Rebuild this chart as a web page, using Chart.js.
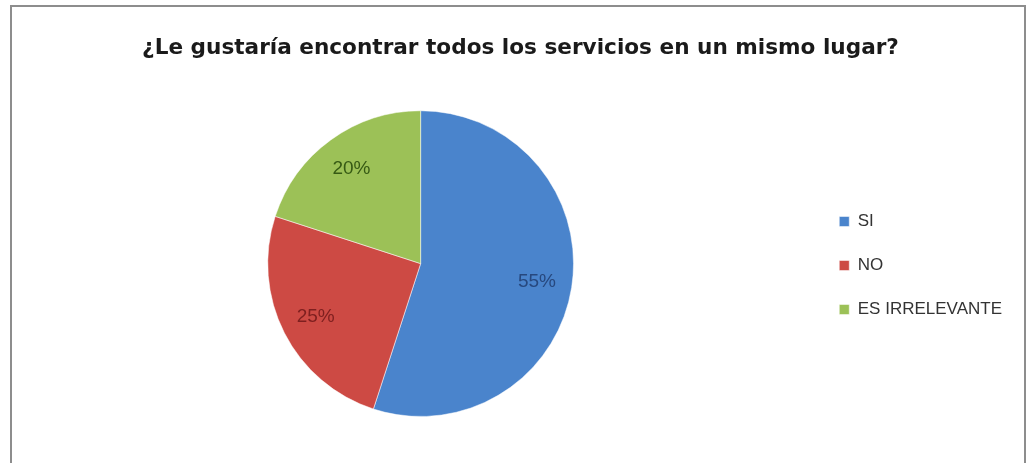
<!DOCTYPE html>
<html>
<head>
<meta charset="utf-8">
<script src="https://cdn.jsdelivr.net/npm/chart.js@4"></script>
<style>
  html, body { margin: 0; padding: 0; background: #fff; overflow: hidden; }
  #frame {
    position: absolute; left: 10px; top: 5px; width: 1016px; height: 480px;
    border: 2px solid #8d8d8d; box-sizing: border-box;
  }
  #chart { position: absolute; left: 0; top: 0; }
</style>
</head>
<body>
<div id="frame"></div>
<canvas id="chart" width="1035" height="463"></canvas>
<script>
const titleText = '¿Le gustaría encontrar todos los servicios en un mismo lugar?';
const categories = ['SI', 'NO', 'ES IRRELEVANTE'];
const percentages = [55, 25, 20];
const sliceColors = ['#4a84cc', '#cd4a44', '#9cc157'];
const labelColors = ['#27487e', '#7e1f1f', '#365a14'];

// percentage text drawn inside each slice, along its middle angle
const sliceLabels = {
  id: 'sliceLabels',
  afterDatasetsDraw(chart) {
    const ctx = chart.ctx;
    const meta = chart.getDatasetMeta(0);
    ctx.save();
    ctx.font = '19px "Liberation Sans", Arial, sans-serif';
    ctx.textAlign = 'center';
    ctx.textBaseline = 'middle';
    meta.data.forEach((arc, i) => {
      const p = arc.getProps(['x', 'y', 'startAngle', 'endAngle', 'outerRadius']);
      const mid = (p.startAngle + p.endAngle) / 2;
      const r = p.outerRadius * 0.77;
      ctx.fillStyle = labelColors[i];
      ctx.fillText(percentages[i] + '%', p.x + Math.cos(mid) * r, p.y + Math.sin(mid) * r);
    });
    ctx.restore();
  }
};

var ctx = document.getElementById('chart').getContext('2d');

var chart = new Chart(ctx, {
  type: 'pie',
  data: {
    labels: categories,
    datasets: [{
      data: percentages,
      backgroundColor: sliceColors,
      borderColor: 'rgba(255,255,255,0.5)',
      borderWidth: 1,
    }]
  },
  options: {
    responsive: false,
    animation: false,
    layout: { padding: { left: 29, right: 23, top: 0, bottom: 46 } },
    plugins: {
      title: {
        display: true,
        text: titleText,
        color: '#1a1a1a',
        font: { family: '"DejaVu Sans", sans-serif', size: 21.6, weight: 'bold' },
        padding: { top: 35.5, bottom: 48.8 },
      },
      legend: {
        position: 'right',
        // empty legend title only pushes the items down
        title: { display: true, text: '', font: { size: 12 }, padding: { top: 0, bottom: 99.6 } },
        labels: {
          boxWidth: 10,
          boxHeight: 10,
          padding: 27,
          color: '#333',
          font: { family: '"Liberation Sans", Arial, sans-serif', size: 17 },
        }
      },
      tooltip: { enabled: false },
    }
  },
  plugins: [sliceLabels]
});
</script>
</body>
</html>
